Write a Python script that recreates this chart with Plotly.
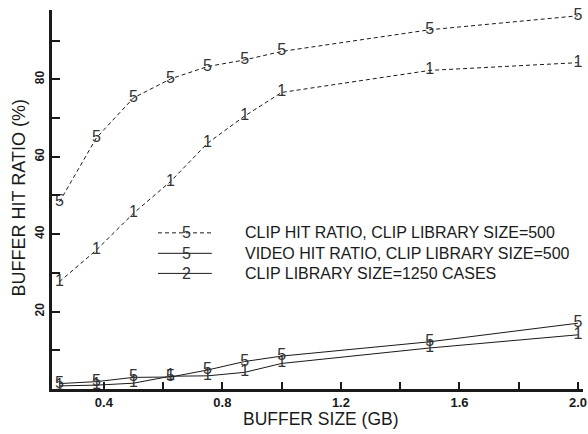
import plotly.graph_objects as go

buffer_gb = [0.25, 0.375, 0.5, 0.625, 0.75, 0.875, 1.0, 1.5, 2.0]
clip_hit_500 = [48.3, 64.9, 75.2, 80.1, 83.3, 85.0, 87.2, 92.8, 96.4]
clip_hit_1250 = [27.7, 35.9, 45.4, 53.6, 63.5, 70.5, 76.6, 82.3, 84.3]
video_hit_500 = [1.4, 1.9, 3.0, 3.1, 4.9, 7.1, 8.5, 12.2, 17.0]
video_hit_1250 = [0.8, 1.0, 1.5, 3.3, 3.4, 4.3, 6.6, 10.6, 14.0]

legend_labels = ["CLIP HIT RATIO, CLIP LIBRARY SIZE=500",
                 "VIDEO HIT RATIO, CLIP LIBRARY SIZE=500",
                 "CLIP LIBRARY SIZE=1250 CASES"]
legend_symbols = ["5", "5", "2"]
legend_dash = ["4px,3px", "solid", "solid"]

x_tickvals = [0.4, 0.6, 0.8, 1.0, 1.2, 1.4, 1.6, 1.8, 2.0]
x_ticktext = ["0.4", "", "0.8", "", "1.2", "", "1.6", "", "2.0"]
y_tickvals = [10, 20, 30, 40, 50, 60, 70, 80, 90]
y_ticktext = ["", "20", "", "40", "", "60", "", "80", ""]

FONT = "Liberation Sans, Arial, sans-serif"
INK = "#1a1a1a"

fig = go.Figure()

series = [
    (clip_hit_500, "5", "4px,3px"),
    (clip_hit_1250, "1", "4px,3px"),
    (video_hit_500, "5", "solid"),
    (video_hit_1250, "1", "solid"),
]
for ys, sym, dash in series:
    fig.add_trace(go.Scatter(
        x=buffer_gb, y=ys, mode="lines+text",
        text=[sym] * len(ys), textposition="middle center",
        textfont=dict(family=FONT, size=16, color="#333"),
        line=dict(color=INK, width=1, dash=dash),
        cliponaxis=False, showlegend=False, hoverinfo="x+y",
    ))

# custom legend (line sample + symbol + label)
leg_y = [0.412, 0.358, 0.305]
for i, (lab, sym, dash) in enumerate(zip(legend_labels, legend_symbols, legend_dash)):
    fig.add_shape(type="line", xref="paper", yref="paper",
                  x0=0.1996, x1=0.301, y0=leg_y[i], y1=leg_y[i],
                  line=dict(color=INK, width=1, dash=dash))
    fig.add_annotation(xref="paper", yref="paper", x=0.254, y=leg_y[i],
                       text=sym, showarrow=False, xanchor="center", yanchor="middle",
                       font=dict(family=FONT, size=16, color="#333"))
    fig.add_annotation(xref="paper", yref="paper", x=0.36, y=leg_y[i],
                       text=lab, showarrow=False, xanchor="left", yanchor="middle",
                       font=dict(family=FONT, size=16, color=INK))

fig.add_annotation(xref="paper", yref="paper", x=0.507, y=-0.079,
                   text="BUFFER SIZE (GB)", showarrow=False,
                   xanchor="center", yanchor="middle",
                   font=dict(family=FONT, size=17.5, color=INK))
fig.add_annotation(xref="paper", yref="paper", x=-0.062, y=0.503,
                   text="BUFFER HIT RATIO (%)", showarrow=False, textangle=-90,
                   xanchor="center", yanchor="middle",
                   font=dict(family=FONT, size=18, color=INK))

fig.update_layout(
    width=588, height=434,
    margin=dict(l=52, r=5, t=10, b=45, autoexpand=False),
    paper_bgcolor="white", plot_bgcolor="white",
    showlegend=False,
    xaxis=dict(range=[0.225, 2.017], tickvals=x_tickvals, ticktext=x_ticktext,
               ticks="inside", ticklen=7, tickwidth=1.5, tickcolor=INK,
               showline=True, linewidth=2.5, linecolor=INK, showgrid=False,
               zeroline=False, tickfont=dict(family=FONT, size=13, color=INK),
               automargin=False),
    yaxis=dict(range=[0, 97.9], tickvals=y_tickvals, ticktext=y_ticktext,
               ticks="inside", ticklen=8, tickwidth=1.5, tickcolor=INK,
               showline=True, linewidth=3, linecolor=INK, showgrid=False,
               zeroline=False, tickangle=-90, automargin=False,
               tickfont=dict(family=FONT, size=12, color=INK)),
)
fig.update_xaxes(tickfont_weight="bold")
fig.update_yaxes(tickfont_weight="bold")

fig.write_html("out.html", config={"displayModeBar": False},
               post_script="document.body.style.margin='0';document.body.style.padding='0';")
